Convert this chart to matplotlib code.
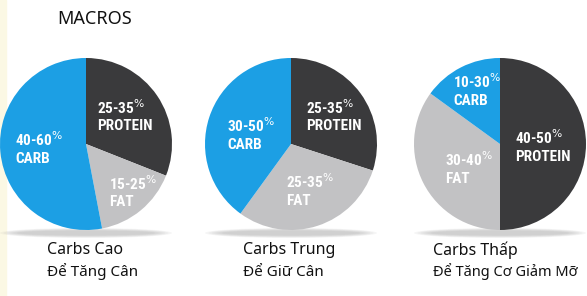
import matplotlib
matplotlib.use("Agg")
import matplotlib.pyplot as plt
from matplotlib.patches import Ellipse

# ---- data ----
titles = ["MACROS"]
captions = [["Carbs Cao", "Để Tăng Cân"],
            ["Carbs Trung", "Để Giữ Cân"],
            ["Carbs Thấp", "Để Tăng Cơ Giảm Mỡ"]]
macro_names = ["PROTEIN", "FAT", "CARB"]
range_labels = [["25-35", "15-25", "40-60"],
                ["25-35", "25-35", "30-50"],
                ["40-50", "30-40", "10-30"]]
pie_values = [[31, 16, 53],
              [30, 30, 40],
              [50, 35, 15]]
colors = ["#3a3a3c", "#c2c2c4", "#1c9fe4"]

# ---- layout (pixel coordinates, origin top-left) ----
W, H = 587, 296
centers = [(86, 144), (291, 144), (500, 144)]
radius = 86
# (left x, cap-centre y of the number line)
label_pos = [[(97, 108), (109, 184), (15, 141)],
             [(306, 108), (286, 183), (227, 127)],
             [(515, 139), (445, 161), (453, 83)]]
caption_x = [47, 243, 433]

fig = plt.figure(figsize=(W / 100, H / 100), dpi=100)
ax = fig.add_axes([0, 0, 1, 1])

def Y(y):
    return H - y

ax.axvspan(0, 6, color="#fbf8e4", zorder=0)

label_font = ["Roboto Condensed", "Liberation Sans Narrow", "Roboto", "DejaVu Sans"]
cap_font = ["Noto Sans", "DejaVu Sans"]
half_cap = 5.5
line_gap = 16.5

for i, (cx, cy) in enumerate(centers):
    for k in range(6):
        ax.add_patch(Ellipse((cx, Y(cy + radius + 3)), 2 * radius * (1.0 - 0.04 * k),
                             10 - k, color="#9a9a9a", alpha=0.09, lw=0, zorder=1))
    ax.pie(pie_values[i], colors=colors, startangle=90, counterclock=False,
           center=(cx, Y(cy)), radius=radius, frame=True,
           wedgeprops=dict(linewidth=0, zorder=2))
    for j, name in enumerate(macro_names):
        lx, ly = label_pos[i][j]
        ax.text(lx, Y(ly + half_cap), range_labels[i][j] + r"$^{\%}$", color="white",
                fontsize=11, fontweight="bold", family=label_font,
                ha="left", va="baseline", zorder=5)
        ax.text(lx, Y(ly + line_gap + half_cap), name, color="white", fontsize=11,
                fontweight="bold", family=label_font,
                ha="left", va="baseline", zorder=5)
    ax.text(caption_x[i], Y(250), captions[i][0], fontsize=11.5,
            family=cap_font, color="#111111", ha="left", va="center")
    ax.text(caption_x[i], Y(272), captions[i][1], fontsize=11 if i < 2 else 10.5,
            family=cap_font, color="#111111", ha="left", va="center")

ax.set_xlim(0, W)
ax.set_ylim(0, H)
ax.set_aspect("equal")
ax.axis("off")
ax.text(57, Y(19), titles[0], fontsize=13, family=cap_font,
        color="#111111", ha="left", va="center")

fig.savefig("out.png", dpi=100)
